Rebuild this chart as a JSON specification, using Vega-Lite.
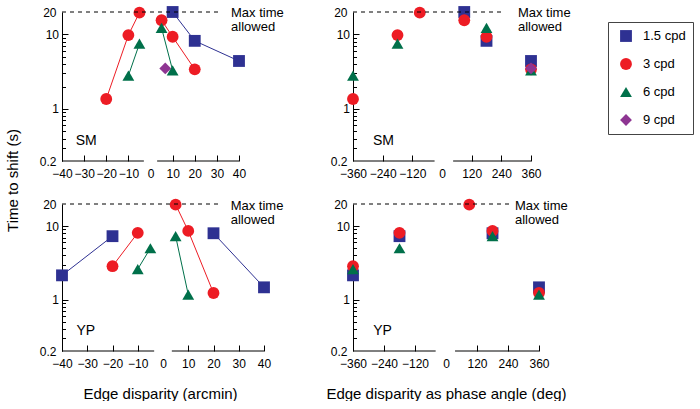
{
  "$schema": "https://vega.github.io/schema/vega-lite/v6.json",
  "padding": {"left": 5, "top": 6, "right": 0, "bottom": 0},
  "background": "white",
  "config": {
    "font": "Liberation Sans",
    "view": {"stroke": null},
    "axis": {"labelFont": "Liberation Sans", "labelFontSize": 12, "labelColor": "black", "tickColor": "black", "domainColor": "black", "grid": false, "labelFlush": false, "labelBound": false, "titleFont": "Liberation Sans", "titleFontWeight": "normal", "titleColor": "black"},
    "legend": {"labelFont": "Liberation Sans"}
  },
  "datasets": {
    "sm": [
      {"sf": "1.5 cpd", "side": "pos", "arcmin": 10, "phase": 90, "time": 20},
      {"sf": "1.5 cpd", "side": "pos", "arcmin": 20, "phase": 180, "time": 8.2},
      {"sf": "1.5 cpd", "side": "pos", "arcmin": 40, "phase": 360, "time": 4.4},
      {"sf": "3 cpd", "side": "neg", "arcmin": -20, "phase": -360, "time": 1.36},
      {"sf": "3 cpd", "side": "neg", "arcmin": -10, "phase": -180, "time": 9.8},
      {"sf": "3 cpd", "side": "neg", "arcmin": -5, "phase": -90, "time": 19.6},
      {"sf": "3 cpd", "side": "pos", "arcmin": 5, "phase": 90, "time": 15.5},
      {"sf": "3 cpd", "side": "pos", "arcmin": 10, "phase": 180, "time": 9.3},
      {"sf": "3 cpd", "side": "pos", "arcmin": 20, "phase": 360, "time": 3.4},
      {"sf": "6 cpd", "side": "neg", "arcmin": -10, "phase": -360, "time": 2.8},
      {"sf": "6 cpd", "side": "neg", "arcmin": -5, "phase": -180, "time": 7.5},
      {"sf": "6 cpd", "side": "pos", "arcmin": 5, "phase": 180, "time": 12.2},
      {"sf": "6 cpd", "side": "pos", "arcmin": 10, "phase": 360, "time": 3.3},
      {"sf": "9 cpd", "side": "pos", "arcmin": 6.67, "phase": 360, "time": 3.5}
    ],
    "yp": [
      {"sf": "1.5 cpd", "side": "neg", "arcmin": -40, "phase": -360, "time": 2.14},
      {"sf": "1.5 cpd", "side": "neg", "arcmin": -20, "phase": -180, "time": 7.3},
      {"sf": "1.5 cpd", "side": "pos", "arcmin": 20, "phase": 180, "time": 8.0},
      {"sf": "1.5 cpd", "side": "pos", "arcmin": 40, "phase": 360, "time": 1.47},
      {"sf": "3 cpd", "side": "neg", "arcmin": -20, "phase": -360, "time": 2.85},
      {"sf": "3 cpd", "side": "neg", "arcmin": -10, "phase": -180, "time": 8.1},
      {"sf": "3 cpd", "side": "pos", "arcmin": 5, "phase": 90, "time": 19.6},
      {"sf": "3 cpd", "side": "pos", "arcmin": 10, "phase": 180, "time": 8.6},
      {"sf": "3 cpd", "side": "pos", "arcmin": 20, "phase": 360, "time": 1.23},
      {"sf": "6 cpd", "side": "neg", "arcmin": -10, "phase": -360, "time": 2.6},
      {"sf": "6 cpd", "side": "neg", "arcmin": -5, "phase": -180, "time": 5.0},
      {"sf": "6 cpd", "side": "pos", "arcmin": 5, "phase": 180, "time": 7.3},
      {"sf": "6 cpd", "side": "pos", "arcmin": 10, "phase": 360, "time": 1.17}
    ]
  },
  "columns": 2,
  "spacing": {"row": 43, "column": 89},
  "bounds": "flush",
  "concat": [
    {
      "width": 177, "height": 149,
      "data": {"name": "sm"},
      "layer": [
        {"transform": [{"filter": "datum.sf == '1.5 cpd'"}], "mark": {"type": "line", "strokeWidth": 1, "color": "#2e3192"},
         "encoding": {
           "x": {"field": "arcmin", "type": "quantitative", "scale": {"domain": [-40, 40], "nice": false, "zero": false},
                 "axis": {"values": [-40, -30, -20, -10, 0, 10, 20, 30, 40], "tickCount": 100, "format": "d", "domain": false, "tickSize": -6, "labelPadding": 13, "labelOverlap": false, "tickOpacity": {"condition": {"test": "datum.value == 0", "value": 0}, "value": 1}, "title": null}},
           "y": {"field": "time", "type": "quantitative", "scale": {"type": "log", "domain": [0.2, 20], "nice": false},
                 "axis": {"values": [0.2, 0.3, 0.4, 0.5, 0.6, 0.7, 0.8, 0.9, 1, 2, 3, 4, 5, 6, 7, 8, 9, 10, 20], "tickCount": 100, "labelExpr": "datum.value == 0.2 ? '0.2' : datum.value == 1 ? '1' : datum.value == 10 ? '10' : datum.value == 20 ? '20' : ''", "tickSize": {"condition": {"test": "datum.value == 1 || datum.value == 10", "value": -6}, "value": -3.5}, "tickOpacity": {"condition": {"test": "datum.value == 0.2 || datum.value == 20", "value": 0}, "value": 1}, "labelPadding": 9.5, "labelOverlap": false, "title": "Time to shift (s)", "titleFontSize": 15, "titleX": -50, "titleY": 168, "titleBaseline": "middle", "titleAlign": "center", "titleAngle": -90}},
           "detail": {"field": "side"}}},
        {"transform": [{"filter": "datum.sf == '3 cpd'"}], "mark": {"type": "line", "strokeWidth": 1, "color": "#ed1c24"},
         "encoding": {"x": {"field": "arcmin", "type": "quantitative"}, "y": {"field": "time", "type": "quantitative"}, "detail": {"field": "side"}}},
        {"transform": [{"filter": "datum.sf == '6 cpd'"}], "mark": {"type": "line", "strokeWidth": 1, "color": "#00704a"},
         "encoding": {"x": {"field": "arcmin", "type": "quantitative"}, "y": {"field": "time", "type": "quantitative"}, "detail": {"field": "side"}}},
        {"mark": {"type": "point", "filled": true, "opacity": 1, "size": 140, "strokeWidth": 0},
         "encoding": {
           "x": {"field": "arcmin", "type": "quantitative"},
           "y": {"field": "time", "type": "quantitative"},
           "color": {"field": "sf", "type": "nominal", "scale": {"domain": ["1.5 cpd", "3 cpd", "6 cpd", "9 cpd"], "range": ["#2e3192", "#ed1c24", "#00704a", "#8e3592"]}, "legend": {"title": null, "orient": "none", "legendX": 546, "legendY": 10, "strokeColor": "#444", "padding": 7, "labelFontSize": 13, "labelColor": "black", "symbolSize": 140, "rowPadding": 14, "symbolOffset": 4, "labelOffset": 10}},
           "shape": {"field": "sf", "type": "nominal", "scale": {"domain": ["1.5 cpd", "3 cpd", "6 cpd", "9 cpd"], "range": ["square", "circle", "triangle-up", "diamond"]}, "legend": {"title": null, "orient": "none", "legendX": 546, "legendY": 10, "strokeColor": "#444", "padding": 7, "labelFontSize": 13, "labelColor": "black", "symbolSize": 140, "rowPadding": 14, "symbolOffset": 4, "labelOffset": 10}}
         }},
        {"data": {"values": [{}]}, "mark": {"type": "rule", "color": "black", "strokeWidth": 1},
         "encoding": {"x": {"datum": -40}, "x2": {"datum": -3}, "y": {"datum": 0.2}}},
        {"data": {"values": [{}]}, "mark": {"type": "rule", "color": "black", "strokeWidth": 1},
         "encoding": {"x": {"datum": 3}, "x2": {"datum": 40}, "y": {"datum": 0.2}}},
        {"data": {"values": [{}]}, "mark": {"type": "rule", "color": "black", "strokeWidth": 1, "strokeDash": [4, 4]},
         "encoding": {"x": {"datum": -40}, "x2": {"datum": 32}, "y": {"datum": 20}}},
        {"data": {"values": [{}]}, "mark": {"type": "text", "text": ["Max time", "allowed"], "align": "left", "baseline": "middle", "fontSize": 13, "lineHeight": 14, "dy": 1, "color": "black"},
         "encoding": {"x": {"datum": 36.4}, "y": {"datum": 20}}},
        {"data": {"values": [{}]}, "mark": {"type": "text", "text": "SM", "align": "left", "baseline": "middle", "fontSize": 14, "color": "black"},
         "encoding": {"x": {"datum": -33.8}, "y": {"datum": 0.375}}}
      ]
    },
    {
      "width": 178, "height": 149,
      "data": {"name": "sm"},
      "layer": [
        {"mark": {"type": "point", "filled": true, "opacity": 1, "size": 140, "strokeWidth": 0},
         "encoding": {
           "x": {"field": "phase", "type": "quantitative", "scale": {"domain": [-360, 360], "nice": false, "zero": false},
                 "axis": {"values": [-360, -240, -120, 0, 120, 240, 360], "tickCount": 100, "format": "d", "domain": false, "tickSize": -6, "labelPadding": 13, "labelOverlap": false, "tickOpacity": {"condition": {"test": "datum.value == 0 || datum.value == -360", "value": 0}, "value": 1}, "title": null}},
           "y": {"field": "time", "type": "quantitative", "scale": {"type": "log", "domain": [0.2, 20], "nice": false},
                 "axis": {"values": [0.2, 0.3, 0.4, 0.5, 0.6, 0.7, 0.8, 0.9, 1, 2, 3, 4, 5, 6, 7, 8, 9, 10, 20], "tickCount": 100, "labelExpr": "datum.value == 0.2 ? '0.2' : datum.value == 1 ? '1' : datum.value == 10 ? '10' : datum.value == 20 ? '20' : ''", "tickSize": {"condition": {"test": "datum.value == 1 || datum.value == 10", "value": -6}, "value": -3.5}, "tickOpacity": {"condition": {"test": "datum.value == 0.2 || datum.value == 20", "value": 0}, "value": 1}, "labelPadding": 9.5, "labelOverlap": false, "title": null}},
           "color": {"field": "sf", "type": "nominal", "scale": {"domain": ["1.5 cpd", "3 cpd", "6 cpd", "9 cpd"], "range": ["#2e3192", "#ed1c24", "#00704a", "#8e3592"]}, "legend": {"title": null, "orient": "none", "legendX": 546, "legendY": 10, "strokeColor": "#444", "padding": 7, "labelFontSize": 13, "labelColor": "black", "symbolSize": 140, "rowPadding": 14, "symbolOffset": 4, "labelOffset": 10}},
           "shape": {"field": "sf", "type": "nominal", "scale": {"domain": ["1.5 cpd", "3 cpd", "6 cpd", "9 cpd"], "range": ["square", "circle", "triangle-up", "diamond"]}, "legend": {"title": null, "orient": "none", "legendX": 546, "legendY": 10, "strokeColor": "#444", "padding": 7, "labelFontSize": 13, "labelColor": "black", "symbolSize": 140, "rowPadding": 14, "symbolOffset": 4, "labelOffset": 10}}
         }},
        {"data": {"values": [{}]}, "mark": {"type": "rule", "color": "black", "strokeWidth": 1},
         "encoding": {"x": {"datum": -360}, "x2": {"datum": -30}, "y": {"datum": 0.2}}},
        {"data": {"values": [{}]}, "mark": {"type": "rule", "color": "black", "strokeWidth": 1},
         "encoding": {"x": {"datum": 45}, "x2": {"datum": 360}, "y": {"datum": 0.2}}},
        {"data": {"values": [{}]}, "mark": {"type": "rule", "color": "black", "strokeWidth": 1, "strokeDash": [4, 4]},
         "encoding": {"x": {"datum": -360}, "x2": {"datum": 250}, "y": {"datum": 20}}},
        {"data": {"values": [{}]}, "mark": {"type": "text", "text": ["Max time", "allowed"], "align": "left", "baseline": "middle", "fontSize": 13, "lineHeight": 14, "dy": 1, "color": "black"},
         "encoding": {"x": {"datum": 307}, "y": {"datum": 20}}},
        {"data": {"values": [{}]}, "mark": {"type": "text", "text": "SM", "align": "left", "baseline": "middle", "fontSize": 14, "color": "black"},
         "encoding": {"x": {"datum": -279}, "y": {"datum": 0.375}}}
      ]
    },
    {
      "width": 202, "height": 147,
      "data": {"name": "yp"},
      "layer": [
        {"transform": [{"filter": "datum.sf == '1.5 cpd'"}], "mark": {"type": "line", "strokeWidth": 1, "color": "#2e3192"},
         "encoding": {
           "x": {"field": "arcmin", "type": "quantitative", "scale": {"domain": [-40, 40], "nice": false, "zero": false},
                 "axis": {"values": [-40, -30, -20, -10, 0, 10, 20, 30, 40], "tickCount": 100, "format": "d", "domain": false, "tickSize": -6, "labelPadding": 13, "labelOverlap": false, "tickOpacity": {"condition": {"test": "datum.value == 0", "value": 0}, "value": 1}, "title": "Edge disparity (arcmin)", "titleFontSize": 15, "titleX": 98, "titleY": 42, "titleBaseline": "middle", "titleAlign": "center"}},
           "y": {"field": "time", "type": "quantitative", "scale": {"type": "log", "domain": [0.2, 20], "nice": false},
                 "axis": {"values": [0.2, 0.3, 0.4, 0.5, 0.6, 0.7, 0.8, 0.9, 1, 2, 3, 4, 5, 6, 7, 8, 9, 10, 20], "tickCount": 100, "labelExpr": "datum.value == 0.2 ? '0.2' : datum.value == 1 ? '1' : datum.value == 10 ? '10' : datum.value == 20 ? '20' : ''", "tickSize": {"condition": {"test": "datum.value == 1 || datum.value == 10", "value": -6}, "value": -3.5}, "tickOpacity": {"condition": {"test": "datum.value == 0.2 || datum.value == 20", "value": 0}, "value": 1}, "labelPadding": 9.5, "labelOverlap": false, "title": null}},
           "detail": {"field": "side"}}},
        {"transform": [{"filter": "datum.sf == '3 cpd'"}], "mark": {"type": "line", "strokeWidth": 1, "color": "#ed1c24"},
         "encoding": {"x": {"field": "arcmin", "type": "quantitative"}, "y": {"field": "time", "type": "quantitative"}, "detail": {"field": "side"}}},
        {"transform": [{"filter": "datum.sf == '6 cpd'"}], "mark": {"type": "line", "strokeWidth": 1, "color": "#00704a"},
         "encoding": {"x": {"field": "arcmin", "type": "quantitative"}, "y": {"field": "time", "type": "quantitative"}, "detail": {"field": "side"}}},
        {"mark": {"type": "point", "filled": true, "opacity": 1, "size": 140, "strokeWidth": 0},
         "encoding": {
           "x": {"field": "arcmin", "type": "quantitative"},
           "y": {"field": "time", "type": "quantitative"},
           "color": {"field": "sf", "type": "nominal", "scale": {"domain": ["1.5 cpd", "3 cpd", "6 cpd", "9 cpd"], "range": ["#2e3192", "#ed1c24", "#00704a", "#8e3592"]}, "legend": {"title": null, "orient": "none", "legendX": 546, "legendY": 10, "strokeColor": "#444", "padding": 7, "labelFontSize": 13, "labelColor": "black", "symbolSize": 140, "rowPadding": 14, "symbolOffset": 4, "labelOffset": 10}},
           "shape": {"field": "sf", "type": "nominal", "scale": {"domain": ["1.5 cpd", "3 cpd", "6 cpd", "9 cpd"], "range": ["square", "circle", "triangle-up", "diamond"]}, "legend": {"title": null, "orient": "none", "legendX": 546, "legendY": 10, "strokeColor": "#444", "padding": 7, "labelFontSize": 13, "labelColor": "black", "symbolSize": 140, "rowPadding": 14, "symbolOffset": 4, "labelOffset": 10}}
         }},
        {"data": {"values": [{}]}, "mark": {"type": "rule", "color": "black", "strokeWidth": 1},
         "encoding": {"x": {"datum": -40}, "x2": {"datum": -3.5}, "y": {"datum": 0.2}}},
        {"data": {"values": [{}]}, "mark": {"type": "rule", "color": "black", "strokeWidth": 1},
         "encoding": {"x": {"datum": 3.5}, "x2": {"datum": 40}, "y": {"datum": 0.2}}},
        {"data": {"values": [{}]}, "mark": {"type": "rule", "color": "black", "strokeWidth": 1, "strokeDash": [4, 4]},
         "encoding": {"x": {"datum": -40}, "x2": {"datum": 23}, "y": {"datum": 20}}},
        {"data": {"values": [{}]}, "mark": {"type": "text", "text": ["Max time", "allowed"], "align": "left", "baseline": "middle", "fontSize": 13, "lineHeight": 14, "dy": 2, "color": "black"},
         "encoding": {"x": {"datum": 26.8}, "y": {"datum": 20}}},
        {"data": {"values": [{}]}, "mark": {"type": "text", "text": "YP", "align": "left", "baseline": "middle", "fontSize": 14, "color": "black"},
         "encoding": {"x": {"datum": -34.3}, "y": {"datum": 0.378}}}
      ]
    },
    {
      "width": 186, "height": 147,
      "data": {"name": "yp"},
      "layer": [
        {"mark": {"type": "point", "filled": true, "opacity": 1, "size": 140, "strokeWidth": 0},
         "encoding": {
           "x": {"field": "phase", "type": "quantitative", "scale": {"domain": [-360, 360], "nice": false, "zero": false},
                 "axis": {"values": [-360, -240, -120, 0, 120, 240, 360], "tickCount": 100, "format": "d", "domain": false, "tickSize": -6, "labelPadding": 13, "labelOverlap": false, "tickOpacity": {"condition": {"test": "datum.value == 0 || datum.value == -360", "value": 0}, "value": 1}, "title": "Edge disparity as phase angle (deg)", "titleFontSize": 15, "titleX": 93, "titleY": 42, "titleBaseline": "middle", "titleAlign": "center"}},
           "y": {"field": "time", "type": "quantitative", "scale": {"type": "log", "domain": [0.2, 20], "nice": false},
                 "axis": {"values": [0.2, 0.3, 0.4, 0.5, 0.6, 0.7, 0.8, 0.9, 1, 2, 3, 4, 5, 6, 7, 8, 9, 10, 20], "tickCount": 100, "labelExpr": "datum.value == 0.2 ? '0.2' : datum.value == 1 ? '1' : datum.value == 10 ? '10' : datum.value == 20 ? '20' : ''", "tickSize": {"condition": {"test": "datum.value == 1 || datum.value == 10", "value": -6}, "value": -3.5}, "tickOpacity": {"condition": {"test": "datum.value == 0.2 || datum.value == 20", "value": 0}, "value": 1}, "labelPadding": 9.5, "labelOverlap": false, "title": null}},
           "color": {"field": "sf", "type": "nominal", "scale": {"domain": ["1.5 cpd", "3 cpd", "6 cpd", "9 cpd"], "range": ["#2e3192", "#ed1c24", "#00704a", "#8e3592"]}, "legend": {"title": null, "orient": "none", "legendX": 546, "legendY": 10, "strokeColor": "#444", "padding": 7, "labelFontSize": 13, "labelColor": "black", "symbolSize": 140, "rowPadding": 14, "symbolOffset": 4, "labelOffset": 10}},
           "shape": {"field": "sf", "type": "nominal", "scale": {"domain": ["1.5 cpd", "3 cpd", "6 cpd", "9 cpd"], "range": ["square", "circle", "triangle-up", "diamond"]}, "legend": {"title": null, "orient": "none", "legendX": 546, "legendY": 10, "strokeColor": "#444", "padding": 7, "labelFontSize": 13, "labelColor": "black", "symbolSize": 140, "rowPadding": 14, "symbolOffset": 4, "labelOffset": 10}}
         }},
        {"data": {"values": [{}]}, "mark": {"type": "rule", "color": "black", "strokeWidth": 1},
         "encoding": {"x": {"datum": -360}, "x2": {"datum": -40}, "y": {"datum": 0.2}}},
        {"data": {"values": [{}]}, "mark": {"type": "rule", "color": "black", "strokeWidth": 1},
         "encoding": {"x": {"datum": 35}, "x2": {"datum": 360}, "y": {"datum": 0.2}}},
        {"data": {"values": [{}]}, "mark": {"type": "rule", "color": "black", "strokeWidth": 1, "strokeDash": [4, 4]},
         "encoding": {"x": {"datum": -360}, "x2": {"datum": 244}, "y": {"datum": 20}}},
        {"data": {"values": [{}]}, "mark": {"type": "text", "text": ["Max time", "allowed"], "align": "left", "baseline": "middle", "fontSize": 13, "lineHeight": 14, "dy": 2, "color": "black"},
         "encoding": {"x": {"datum": 267}, "y": {"datum": 20}}},
        {"data": {"values": [{}]}, "mark": {"type": "text", "text": "YP", "align": "left", "baseline": "middle", "fontSize": 14, "color": "black"},
         "encoding": {"x": {"datum": -282}, "y": {"datum": 0.378}}}
      ]
    }
  ]
}
